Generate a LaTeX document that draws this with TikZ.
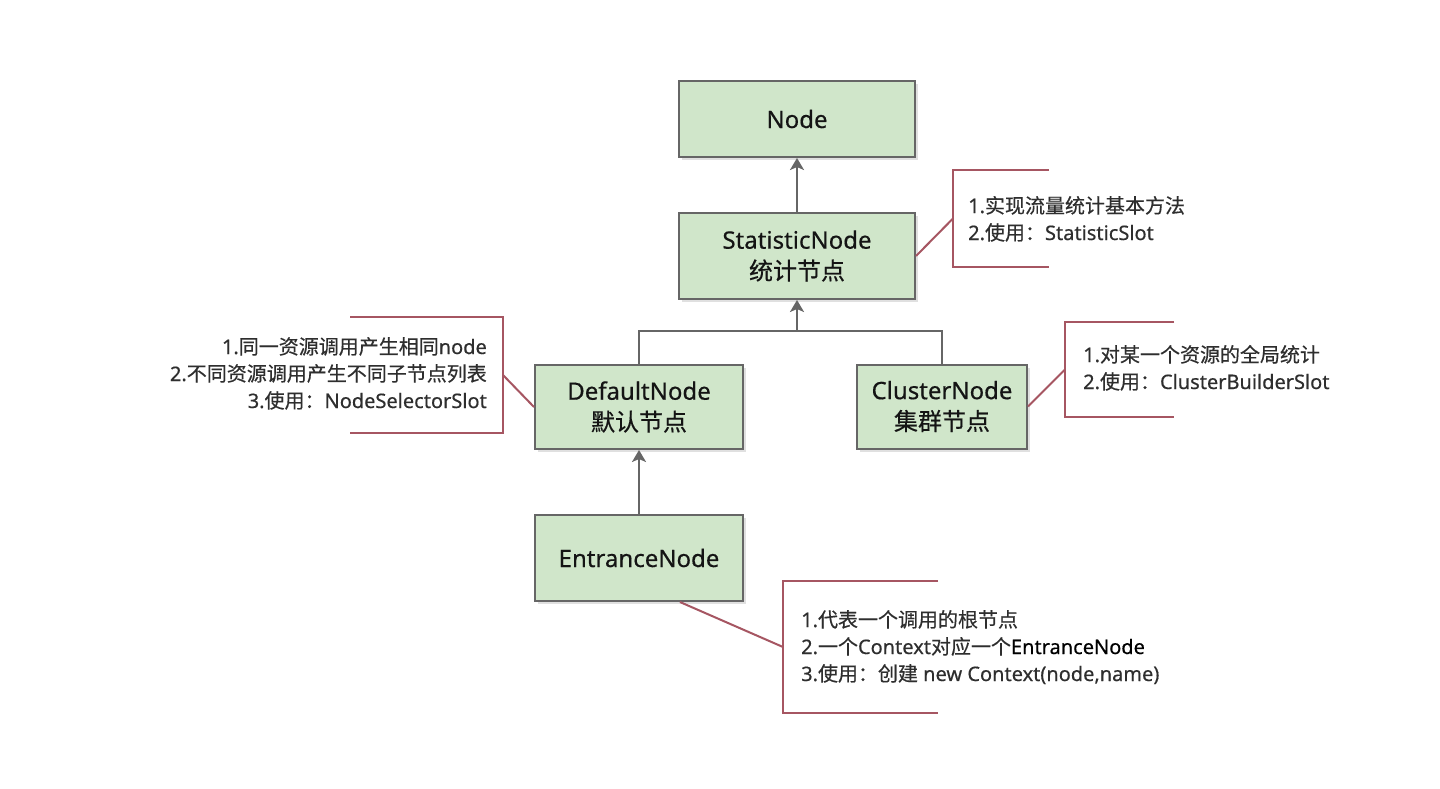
\documentclass[tikz,border=0pt]{standalone}
\usepackage{fontspec}
\setmainfont{Noto Sans}[FakeBold=0.45]
\newfontfamily\cjk{Noto Sans CJK SC}[FakeBold=0.45]
\newcommand\zh[1]{{\cjk #1}}
\usetikzlibrary{arrows.meta,shadows,calc}
\definecolor{boxfill}{HTML}{D0E6CA}
\definecolor{boxline}{HTML}{666666}
\definecolor{noteline}{HTML}{A65662}
\definecolor{notetext}{HTML}{2E2E2E}
\tikzset{
  umlbox/.style={draw=boxline, fill=boxfill, line width=2pt, rectangle, inner sep=0pt,
    align=center, text=black!92, font=\fontsize{24}{31}\selectfont,
    drop shadow={shadow xshift=3pt, shadow yshift=-3pt, fill=black, opacity=0.12}},
  inherit/.style={draw=boxline, line width=2pt, -{Stealth[length=12pt,width=14pt,inset=3pt]}},
  tree/.style={draw=boxline, line width=2pt},
  notebr/.style={draw=noteline, line width=2pt},
  noteln/.style={draw=noteline, line width=2pt},
  notetxt/.style={inner sep=0pt, text=notetext, font=\fontsize{20}{27}\selectfont},
}
\begin{document}
\begin{tikzpicture}[x=1pt,y=-1pt]
\useasboundingbox[fill=white] (0,0) rectangle (1440,788);

% boxes
\node[umlbox, minimum width=236pt, minimum height=76pt] (node) at (797,119) {Node};
\node[umlbox, minimum width=236pt, minimum height=86pt] (stat) at (797,256) {StatisticNode\\\zh{统计节点}};
\node[umlbox, minimum width=208pt, minimum height=84pt] (default) at (639,407) {DefaultNode\\\zh{默认节点}};
\node[umlbox, minimum width=170pt, minimum height=84pt] (cluster) at (942,406.5) {ClusterNode\\\zh{集群节点}};
\node[umlbox, minimum width=208pt, minimum height=86pt] (entrance) at (639,558) {EntranceNode};

% inheritance
\draw[inherit] (stat) -- (node);
\coordinate (join) at (797,331);
\draw[tree] (default.north) |- (join) -| (cluster.north);
\draw[inherit] (join) -- (stat.south);
\draw[inherit] (entrance) -- (default);

% notes: brackets
\coordinate (sb) at (953,218.5);
\draw[notebr] (1049,170) -- (953,170) -- (953,267) -- (1049,267);
\coordinate (db) at (503,375);
\draw[notebr] (350,317) -- (503,317) -- (503,433) -- (350,433);
\coordinate (cb) at (1065,369.5);
\draw[notebr] (1174,322) -- (1065,322) -- (1065,417) -- (1174,417);
\coordinate (eb) at (783,647);
\draw[notebr] (938,581) -- (783,581) -- (783,713) -- (938,713);

% notes: connectors
\draw[noteln] (stat.east) -- (sb);
\draw[noteln] (default.west) -- (db);
\draw[noteln] (cluster.east) -- (cb);
\coordinate (eo) at ($(entrance.south west)!0.695!(entrance.south east)$);
\draw[noteln] (eo) -- (eb);

% notes: text
\node[notetxt, anchor=base west] (stxt) at (968,213) {\begin{tabular}[t]{@{}l@{}}1.\zh{实现流量统计基本方法}\\2.\zh{使用：}StatisticSlot\end{tabular}};
\node[notetxt, anchor=base east] (dtxt) at (487,354) {\begin{tabular}[t]{@{}r@{}}1.\zh{同一资源调用产生相同}node\\2.\zh{不同资源调用产生不同子节点列表}\\3.\zh{使用：}NodeSelectorSlot\end{tabular}};
\node[notetxt, anchor=base west] (ctxt) at (1083,362) {\begin{tabular}[t]{@{}l@{}}1.\zh{对某一个资源的全局统计}\\2.\zh{使用：}ClusterBuilderSlot\end{tabular}};
\node[notetxt, anchor=base west] (etxt) at (801,627) {\begin{tabular}[t]{@{}l@{}}1.\zh{代表一个调用的根节点}\\2.\zh{一个}Context\zh{对应一个}{\color{black}EntranceNode}\\3.\zh{使用：创建} new Context(node,name)\end{tabular}};
\end{tikzpicture}
\end{document}
